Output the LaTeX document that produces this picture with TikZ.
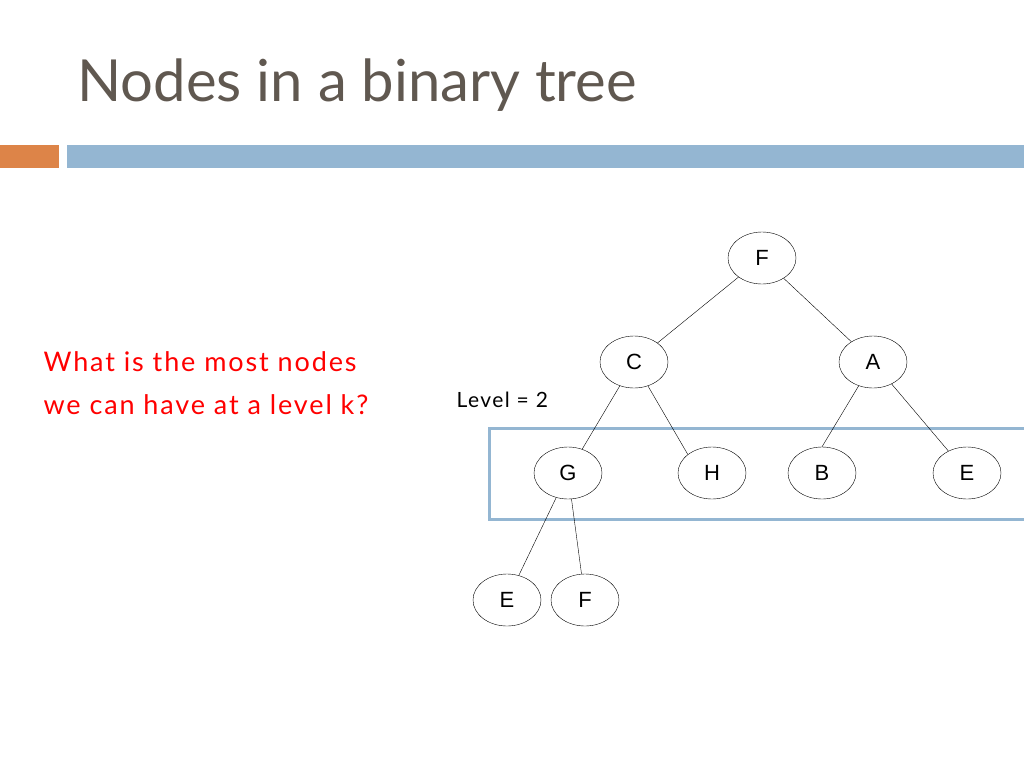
\documentclass[tikz,border=0pt]{standalone}
\usepackage{fontspec}
\setmainfont{Liberation Sans}
\newfontfamily\titlefont{Lato}
\newfontfamily\widefont[LetterSpace=7]{Lato}
\usetikzlibrary{shapes.geometric}
\definecolor{barblue}{RGB}{148,182,210}
\definecolor{barorange}{RGB}{221,132,72}
\definecolor{titlegray}{RGB}{96,88,80}
\begin{document}
\begin{tikzpicture}[x=1pt,y=-1pt]
  \tikzstyle{treenode}=[draw,ellipse,minimum width=68pt,minimum height=52pt,inner sep=0pt,font=\fontsize{22}{24}\selectfont]
  \tikzstyle{edge}=[draw,thin]
  \useasboundingbox (0,0) rectangle (1024,768);
  \node[anchor=west,text=titlegray,font=\titlefont\fontsize{58}{62}\selectfont] (title) at (74,85) {Nodes in a binary tree};
  \fill[barorange] (0,145) rectangle (59,168);
  \fill[barblue] (67,145) rectangle (1024,168);
  \node[anchor=west,text=red,align=left,font=\widefont\fontsize{27}{43}\selectfont] (question) at (40,383) {What is the most nodes\\we can have at a level k?};
  \node[anchor=west,font=\widefont\fontsize{21}{24}\selectfont] (level) at (453,400) {Level = 2};
  \draw[barblue,line width=3pt] (489,428) rectangle (1026,519);
  % tree
  \node[treenode] (f) at (762,258) {F};
  \node[treenode] (c) at (634,362) {C};
  \node[treenode] (a) at (873,362) {A};
  \node[treenode] (g) at (568,473) {G};
  \node[treenode] (h) at (712,473) {H};
  \node[treenode] (b) at (822,473) {B};
  \node[treenode] (e) at (967,473) {E};
  \node[treenode] (e2) at (507,600) {E};
  \node[treenode] (f2) at (585,600) {F};
  \path[edge] (f) -- (c);
  \path[edge] (f) -- (a);
  \path[edge] (c) -- (g);
  \path[edge] (c) -- (h.north west);
  \path[edge] (a) -- (b.north);
  \path[edge] (a) -- (e);
  \path[edge] (g) -- (e2);
  \path[edge] (g) -- (f2);
\end{tikzpicture}
\end{document}
